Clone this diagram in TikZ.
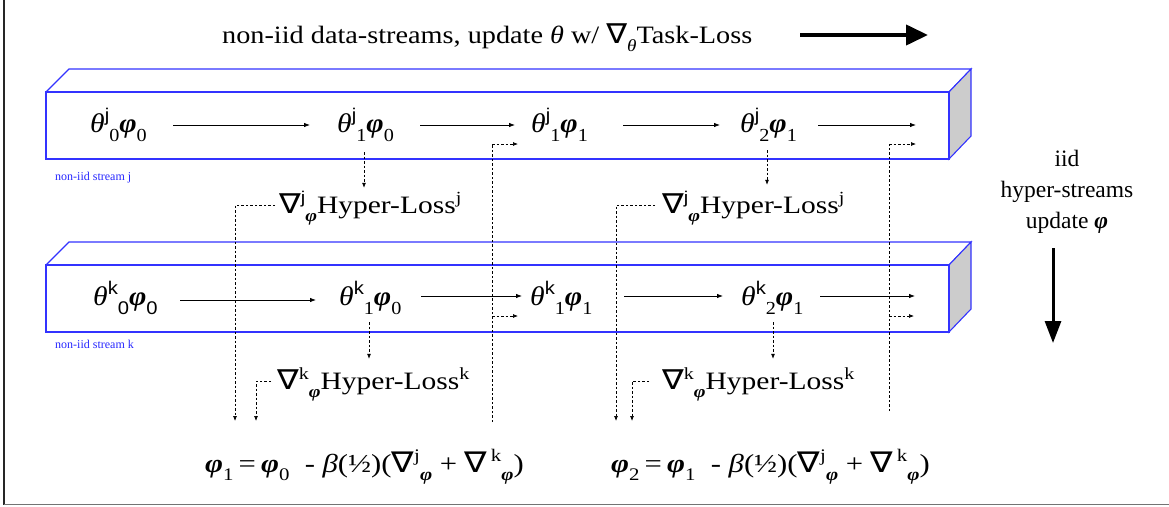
\documentclass[tikz,border=0pt]{standalone}
\usepackage{fontspec}
\usepackage{graphicx}
\setmainfont{Liberation Serif}
\newfontfamily\sansf{Liberation Sans}
\newfontfamily\symf{DejaVu Sans}
\usetikzlibrary{arrows.meta}

% symbols and PowerPoint-like raised / lowered indices
\newcommand\bph{\textbf{\textit{φ}}}
\newcommand\thet{\textit{θ}}
\newcommand\upi[1]{\raisebox{0.40em}{\scalebox{0.68}{#1}}}
\newcommand\dni[1]{\raisebox{-0.34em}{\scalebox{0.68}{#1}}}
\newcommand\nab{{\symf\scalebox{1.1}{∇}}}

% wide-set lettering: the node text is stretched horizontally
\newsavebox\widebox
\tikzset{
  wide/.style={execute at begin node={\begin{lrbox}{\widebox}},
               execute at end node={\end{lrbox}\scalebox{#1}[1]{\usebox\widebox}}},
  boxline/.style={draw=blue!80, line width=1.1pt},
  sideface/.style={boxline, fill=black!20},
  thnode/.style={anchor=base west, inner sep=0pt, text height=16pt, text depth=2pt,
                 font=\fontsize{27}{32}\selectfont, wide=1.1},
  hlnode/.style={anchor=base west, inner sep=0pt, text height=18pt, text depth=6pt,
                 font=\fontsize{25}{30}\selectfont, wide=1.18},
  fnode/.style={anchor=base west, inner sep=0pt, font=\fontsize{26}{31}\selectfont, wide=1.18},
  tagnode/.style={anchor=base west, inner sep=0pt, text=blue!85,
                  font=\fontsize{12}{14}\selectfont},
  flow/.style={line width=0.8pt, -{Latex[length=6pt,width=4.5pt]}},
  dflow/.style={line width=0.7pt, dash pattern=on 2.5pt off 2pt, -{Latex[length=5pt,width=4pt]}},
  dline/.style={line width=0.7pt, dash pattern=on 2.5pt off 2pt},
}

\begin{document}
\begin{tikzpicture}[x=1pt, y=-1pt]
\useasboundingbox (0,0) rectangle (1169,506);

% page frame
\draw[line width=1.3pt, black!85] (4,0) -- (4,504.5);
\draw[line width=1.6pt, black!55] (4,504.5) -- (1169,504.5);

% heading with its arrow
\node[anchor=base west, inner sep=0pt, font=\fontsize{25}{30}\selectfont, wide=1.13] (title) at (222,43)
  {non-iid data-streams, update \thet{} w/ \nab\dni{\thet}Task-Loss};
\coordinate (ha) at (800,35);
\coordinate (hb) at (928,35);
\draw[line width=4pt, -{Triangle[length=22pt,width=20pt]}] (ha) -- (hb);

% stream boxes (front face, top face, shaded side face)
\foreach \t/\b in {92/159, 265/332}{
  \draw[boxline] (46,\t) -- (69,\t-23) -- (971,\t-23) -- (949,\t);
  \draw[sideface] (949,\t) -- (971,\t-23) -- (971,\b-23) -- (949,\b) -- cycle;
  \draw[boxline] (46,\t) rectangle (949,\b);
}
\node[tagnode] (sj) at (55,180) {non-iid stream j};
\node[tagnode] (sk) at (55,348) {non-iid stream k};

% stream j
\node[thnode] (tj0) at (90,132) {\thet\upi{\sansf j}\dni{0}\bph\dni{0}};
\node[thnode] (tj1) at (337,132) {\thet\upi{\sansf j}\dni{1}\bph\dni{0}};
\node[thnode] (tj2) at (531,132) {\thet\upi{\sansf j}\dni{1}\bph\dni{1}};
\node[thnode] (tj3) at (740,132) {\thet\upi{\sansf j}\dni{2}\bph\dni{1}};
\coordinate (ej) at (916,125);
\draw[flow] ([xshift=83pt]tj0.west) -- ([xshift=-27pt]tj1.west);
\draw[flow] ([xshift=83pt]tj1.west) -- ([xshift=-16pt]tj2.west);
\draw[flow] ([xshift=92pt]tj2.west) -- ([xshift=-20pt]tj3.west);
\draw[flow] ([xshift=78pt]tj3.west) -- (ej);

% stream k
\node[thnode] (tk0) at (93,305) {\thet\upi{\sansf k}\dni{\sansf 0}\bph\dni{\sansf 0}};
\node[thnode] (tk1) at (339,305) {\thet\upi{\sansf k}\dni{1}\bph\dni{0}};
\node[thnode] (tk2) at (530,305) {\thet\upi{\sansf k}\dni{1}\bph\dni{1}};
\node[thnode] (tk3) at (741,305) {\thet\upi{\sansf k}\dni{2}\bph\dni{1}};
\coordinate (ek) at (915,296);
\draw[flow] ([xshift=87pt,yshift=-2pt]tk0.west) -- ([xshift=-23pt,yshift=-2pt]tk1.west);
\draw[flow] ([xshift=82pt,yshift=2pt]tk1.west) -- ([xshift=-8pt,yshift=2pt]tk2.west);
\draw[flow] ([xshift=94pt,yshift=2pt]tk2.west) -- ([xshift=-18pt,yshift=2pt]tk3.west);
\draw[flow] ([xshift=79pt,yshift=2pt]tk3.west) -- (ek);

% hyper-losses
\node[hlnode] (hj1) at (279,213) {\nab\upi{\sansf j}\dni{\bph}Hyper-Loss\upi{j}};
\node[hlnode] (hj2) at (662,213) {\nab\upi{\sansf j}\dni{\bph}Hyper-Loss\upi{j}};
\node[hlnode] (hk1) at (277,389) {\nab\upi{k}\dni{\bph}Hyper-Loss\upi{k}};
\node[hlnode] (hk2) at (662,389) {\nab\upi{k}\dni{\bph}Hyper-Loss\upi{k}};

% meta-updates
\node[fnode] (f1) at (205,472) {\bph\dni{1}\,=\,\bph\dni{0}\ \ - \textit{β}(½)(\nab\upi{j}\dni{\bph}\ + \nab\upi{\,k}\dni{\bph})};
\node[fnode] (f2) at (611,472) {\bph\dni{2}\,=\,\bph\dni{1}\ \ - \textit{β}(½)(\nab\upi{j}\dni{\bph}\ + \nab\upi{\,k}\dni{\bph})};

% gradients flowing down from the streams
\draw[dflow] ([xshift=27pt,yshift=-18pt]tj1.south west) -- ([xshift=27pt,yshift=7pt]tj1.south west |- hj1.north);
\draw[dflow] ([xshift=27pt,yshift=-16pt]tj3.south west) -- ([xshift=27pt,yshift=10pt]tj3.south west |- hj2.north);
\draw[dflow] ([xshift=30pt,yshift=-15pt]tk1.south west) -- ([xshift=30pt,yshift=12pt]tk1.south west |- hk1.north);
\draw[dflow] ([xshift=32pt,yshift=-15pt]tk3.south west) -- ([xshift=32pt,yshift=12pt]tk3.south west |- hk2.north);

% hyper-losses collected into the updates
\coordinate (bj1) at (235,205);
\coordinate (bk1) at (256,381);
\coordinate (bj2) at (616,205);
\coordinate (bk2) at (632,381);
\draw[dflow] ([xshift=-4pt]hj1.west |- bj1) -- (bj1) -- (bj1 |- 0,421);
\draw[dflow] ([xshift=-6pt]hk1.west |- bk1) -- (bk1) -- (bk1 |- 0,421);
\draw[dflow] ([xshift=-7pt]hj2.west |- bj2) -- (bj2) -- (bj2 |- 0,421);
\draw[dflow] ([xshift=-13pt]hk2.west |- bk2) -- (bk2) -- (bk2 |- 0,421);

% updated phi fed back into both streams
\coordinate (u1) at (492,422);
\coordinate (u2) at (889,411);
\draw[dline] (u1) -- (u1 |- 0,144);
\draw[dflow] (u1 |- 0,144) -- (518,144);
\draw[dflow] (u1 |- 0,316) -- (518,316);
\draw[dline] (u2) -- (u2 |- 0,144);
\draw[dflow] (u2 |- 0,144) -- (916,144);
\draw[dflow] (u2 |- 0,316) -- (914,316);

% hyper-stream direction
\node[align=center, inner sep=0pt, font=\fontsize{23.5}{31}\selectfont] (iid) at (1067,192)
  {iid\\hyper-streams\\update \bph};
\coordinate (da) at (1053,248);
\coordinate (db) at (1053,343);
\draw[line width=3pt, -{Triangle[length=22pt,width=16pt]}] (da) -- (db);
\end{tikzpicture}
\end{document}
